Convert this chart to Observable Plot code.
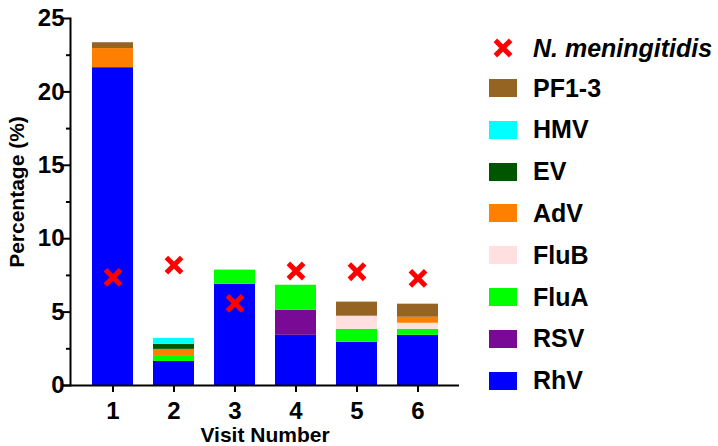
<!DOCTYPE html>
<html><head><meta charset="utf-8">
<script src="https://cdn.jsdelivr.net/npm/d3@7"></script>
<script src="https://cdn.jsdelivr.net/npm/@observablehq/plot@0.6"></script>
<style>
body{margin:0;background:#fff;}
#wrap{position:relative;width:718px;height:446px;font-family:"Liberation Sans",Arial,sans-serif;overflow:hidden;}
#legend{position:absolute;left:489px;top:0;}
.item{position:absolute;left:0;height:30px;display:flex;align-items:center;white-space:nowrap;font-weight:bold;font-size:25px;color:#000;}
.sw{width:28px;height:18px;margin-right:16px;flex:none;}
.mk{width:28px;height:22px;margin-right:16px;flex:none;}
</style></head><body><div id="wrap"><div id="legend"></div></div>
<script>
const visits = ["1","2","3","4","5","6"];
const series = ["RhV","RSV","FluA","FluB","AdV","EV","HMV","PF1-3"];
const colors = ["#0000FF","#780A96","#00FF00","#FFDFE0","#FF8000","#005500","#00FFFF","#956422"];
const RhV  = [21.65, 1.64, 6.90, 3.42, 2.94, 3.42];
const RSV  = [0, 0, 0, 1.70, 0, 0];
const FluA = [0, 0.34, 0.96, 1.71, 0.89, 0.41];
const FluB = [0, 0, 0, 0, 0.89, 0.41];
const AdV  = [1.30, 0.48, 0, 0, 0, 0.41];
const EV   = [0, 0.34, 0, 0, 0, 0];
const HMV  = [0, 0.41, 0, 0, 0, 0];
const PF13 = [0.40, 0, 0, 0, 0.96, 0.89];
const nMen = [7.36, 8.2, 5.6, 7.8, 7.75, 7.3];
const nMenLabel = "N. meningitidis";
const yTicks = [0, 5, 10, 15, 20, 25];
const yMinorTicks = [2.5, 7.5, 12.5, 17.5, 22.5];
const xLabel = "Visit Number";
const yLabel = "Percentage (%)";

const seriesValues = [RhV, RSV, FluA, FluB, AdV, EV, HMV, PF13];
const table = [];
series.forEach((s, i) => visits.forEach((v, j) => table.push({visit: v, series: s, value: seriesValues[i][j]})));
const points = visits.map((v, j) => ({visit: v, value: nMen[j]}));

const chart = Plot.plot({
  width: 718,
  height: 446,
  marginLeft: 70,
  marginRight: 259,
  marginTop: 18,
  marginBottom: 61,
  style: {fontFamily: "'Liberation Sans', Arial, sans-serif", background: "#fff", color: "#000"},
  x: {domain: visits, paddingInner: 0.33, paddingOuter: 0.34, label: null},
  y: {domain: [0, 25], label: null},
  color: {domain: series, range: colors},
  marks: [
    Plot.barY(table, {x: "visit", y: "value", fill: "series", order: series}),
    Plot.dot(points, {x: "visit", y: "value", symbol: "times", r: 7, stroke: "#FF0000", strokeWidth: 5}),
    Plot.axisY({ticks: yTicks, tickSize: 7, tickPadding: -1, strokeWidth: 2, fontSize: 24, fontWeight: "bold", label: null}),
    Plot.axisY({ticks: yMinorTicks, tickSize: 4, strokeWidth: 2, text: null, label: null}),
    Plot.axisX({tickSize: 7, tickPadding: 9, strokeWidth: 2, fontSize: 24, fontWeight: "bold", label: null}),
    Plot.frame({anchor: "left", strokeWidth: 2}),
    Plot.ruleY([0], {strokeWidth: 2, insetLeft: -7}),
    Plot.text([yLabel], {frameAnchor: "left", textAnchor: "middle", lineAnchor: "middle", rotate: -90, dx: -53, dy: -10, fontSize: 21, fontWeight: "bold"}),
    Plot.text([xLabel], {frameAnchor: "bottom", textAnchor: "middle", lineAnchor: "middle", dy: 50, fontSize: 21, fontWeight: "bold"})
  ]
});
document.getElementById("wrap").prepend(chart);

// legend
const legend = document.getElementById("legend");
const rowStart = 48, rowGap = 41.8;
const items = [{label: nMenLabel, marker: true}].concat(series.map((s, i) => ({label: s, color: colors[i]})).reverse());
items.forEach((it, k) => {
  const c = k === 0 ? rowStart : rowStart + 40 + (k - 1) * rowGap;
  const div = document.createElement("div");
  div.className = "item";
  div.style.top = (c - 15) + "px";
  if (it.marker) {
    const ns = "http://www.w3.org/2000/svg";
    const svg = document.createElementNS(ns, "svg");
    svg.setAttribute("class", "mk");
    svg.setAttribute("width", 28); svg.setAttribute("height", 22);
    const p = document.createElementNS(ns, "path");
    p.setAttribute("d", d3.symbol(d3.symbolTimes, Math.PI * 49)());
    p.setAttribute("transform", "translate(14,11)");
    p.setAttribute("stroke", "#FF0000"); p.setAttribute("stroke-width", 5); p.setAttribute("fill", "none");
    svg.appendChild(p);
    div.appendChild(svg);
  } else {
    const sw = document.createElement("span");
    sw.className = "sw";
    sw.style.background = it.color;
    div.appendChild(sw);
  }
  const t = document.createElement("span");
  t.textContent = it.label;
  if (it.marker) t.style.fontStyle = "italic";
  div.appendChild(t);
  legend.appendChild(div);
});
</script></body></html>
